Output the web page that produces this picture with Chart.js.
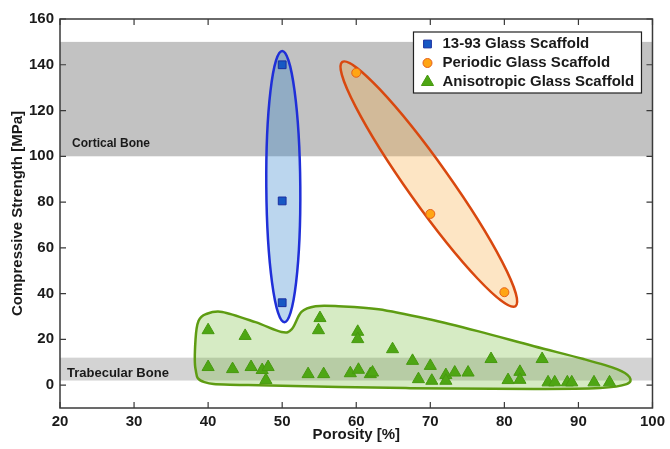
<!DOCTYPE html>
<html lang="en">
<head>
<meta charset="UTF-8">
<title>Compressive Strength vs Porosity</title>
<script src="https://cdn.jsdelivr.net/npm/chart.js"></script>
<style>
  body { margin: 0; background: #fff; }
  #wrap { width: 670px; height: 449px; }
</style>
</head>
<body>
<div id="wrap"><canvas id="strengthChart" width="670" height="449"></canvas></div>
<script>
// axis ticks
const xTicks = [20, 30, 40, 50, 60, 70, 80, 90, 100];
const yTicks = [0, 20, 40, 60, 80, 100, 120, 140, 160];

// series: [porosity %, strength MPa]
const seriesLabels = ['13-93 Glass Scaffold', 'Periodic Glass Scaffold', 'Anisotropic Glass Scaffold'];
const glass1393 = [[50, 140], [50, 80.5], [50, 36]];
const periodic = [[60, 136.5], [70, 74.8], [80, 40.6]];
const anisotropic = [
  [40, 24], [45, 21.5], [55.1, 29.3], [54.9, 24], [40, 7.9], [43.3, 7], [45.8, 7.9],
  [47.3, 6.6], [48.1, 7.9], [47.8, 2.2], [53.5, 4.8], [55.6, 4.8], [60.2, 23.3],
  [60.2, 20.1], [64.9, 15.7], [67.6, 10.6], [70, 8.4], [59.2, 5.2], [60.3, 6.7],
  [61.9, 4.8], [62.2, 5.5], [68.4, 2.6], [70.2, 1.9], [72.1, 4.4], [72.1, 1.9],
  [73.3, 5.5], [75.1, 5.5], [78.2, 11.4], [85.1, 11.4], [80.5, 2.2], [82.1, 5.8],
  [82.1, 2.3], [85.9, 1.2], [86.8, 1.2], [88.5, 1.2], [89.1, 1.2], [92.1, 1.2], [94.2, 1.2]
];

// reference bone ranges (MPa)
const corticalBand = [100, 150];
const trabecularBand = [2, 12];

// outline of the anisotropic group, in data units
const anisoHull = [
  [39.7, 31], [41.9, 32], [46.4, 27.5], [49.9, 23.2], [51.3, 24.5], [52.6, 32],
  [54.5, 34.5], [57.6, 34.5], [63, 33.2], [69.7, 28.9], [76.4, 23.6], [84, 17],
  [90.7, 11.4], [95.2, 7], [96.9, 3.5], [96.5, 0.4], [92.9, -1.3], [84, -1.7],
  [66.7, -1.3], [45.4, 0], [39.5, 1.3], [38.3, 7], [38.3, 20], [38.7, 28]
];
// tips of the two elongated groups
const glassHullTips = [[50, 146], [50.3, 27.5]];
const periodicHullTips = [[58.1, 141.2], [81.5, 34.5]];

const FONT = 'Arial, "Liberation Sans", sans-serif';
const toXY = arr => arr.map(p => ({ x: p[0], y: p[1] }));

function smoothClosed(ctx, pts) {
  const n = pts.length;
  ctx.beginPath();
  ctx.moveTo(pts[0][0], pts[0][1]);
  for (let i = 0; i < n; i++) {
    const p0 = pts[(i - 1 + n) % n], p1 = pts[i], p2 = pts[(i + 1) % n], p3 = pts[(i + 2) % n];
    ctx.bezierCurveTo(
      p1[0] + (p2[0] - p0[0]) / 6, p1[1] + (p2[1] - p0[1]) / 6,
      p2[0] - (p3[0] - p1[0]) / 6, p2[1] - (p3[1] - p1[1]) / 6,
      p2[0], p2[1]);
  }
  ctx.closePath();
}

function ellipseHull(ctx, a, b, halfWidth, fill, stroke) {
  const cx = (a[0] + b[0]) / 2, cy = (a[1] + b[1]) / 2;
  const rx = Math.hypot(b[0] - a[0], b[1] - a[1]) / 2;
  const rot = Math.atan2(b[1] - a[1], b[0] - a[0]);
  ctx.beginPath();
  ctx.ellipse(cx, cy, rx, halfWidth, rot, 0, Math.PI * 2);
  ctx.fillStyle = fill;
  ctx.fill();
  ctx.lineWidth = 2.5;
  ctx.strokeStyle = stroke;
  ctx.stroke();
}

function drawMarker(ctx, style, x, y, r, fill, stroke) {
  ctx.beginPath();
  if (style === 'rect') {
    const s = r * Math.SQRT1_2;
    ctx.rect(x - s, y - s, 2 * s, 2 * s);
  } else if (style === 'triangle') {
    ctx.moveTo(x, y - r);
    ctx.lineTo(x + r * Math.sin(Math.PI * 2 / 3), y - r * Math.cos(Math.PI * 2 / 3));
    ctx.lineTo(x + r * Math.sin(Math.PI * 4 / 3), y - r * Math.cos(Math.PI * 4 / 3));
    ctx.closePath();
  } else {
    ctx.arc(x, y, r, 0, Math.PI * 2);
  }
  ctx.fillStyle = fill;
  ctx.fill();
  ctx.lineWidth = 1;
  ctx.strokeStyle = stroke;
  ctx.stroke();
}

const decorPlugin = {
  id: 'decor',
  beforeDatasetsDraw(chart) {
    const { ctx, chartArea: ca, scales: { x, y } } = chart;
    const px = p => [x.getPixelForValue(p[0]), y.getPixelForValue(p[1])];
    ctx.save();
    // bone bands
    ctx.fillStyle = '#c2c2c2';
    ctx.fillRect(ca.left, y.getPixelForValue(corticalBand[1]), ca.width,
      y.getPixelForValue(corticalBand[0]) - y.getPixelForValue(corticalBand[1]));
    ctx.fillStyle = '#d3d3d3';
    ctx.fillRect(ca.left, y.getPixelForValue(trabecularBand[1]), ca.width,
      y.getPixelForValue(trabecularBand[0]) - y.getPixelForValue(trabecularBand[1]));
    ctx.fillStyle = '#1a1a1a';
    ctx.textBaseline = 'middle';
    ctx.font = 'bold 12px ' + FONT;
    ctx.fillText('Cortical Bone', ca.left + 12, y.getPixelForValue(corticalBand[0]) - 13);
    ctx.font = 'bold 13px ' + FONT;
    ctx.fillText('Trabecular Bone', ca.left + 7, y.getPixelForValue((trabecularBand[0] + trabecularBand[1]) / 2) + 4);

    // group outlines
    smoothClosed(ctx, anisoHull.map(px));
    ctx.fillStyle = 'rgba(120, 190, 60, 0.3)';
    ctx.fill();
    ctx.lineWidth = 2.5;
    ctx.strokeStyle = '#5e9c12';
    ctx.stroke();
    ellipseHull(ctx, px(glassHullTips[0]), px(glassHullTips[1]), 17, 'rgba(35, 122, 200, 0.31)', '#1f2fd8');
    ellipseHull(ctx, px(periodicHullTips[0]), px(periodicHullTips[1]), 21, 'rgba(250, 170, 60, 0.3)', '#d9480f');
    ctx.restore();
  },
  afterDraw(chart) {
    const { ctx, chartArea: ca, scales: { x, y } } = chart;
    ctx.save();
    // box and inward ticks
    ctx.strokeStyle = '#3a3a3a';
    ctx.lineWidth = 1.5;
    ctx.strokeRect(ca.left, ca.top, ca.width, ca.height);
    ctx.lineWidth = 1.2;
    ctx.beginPath();
    xTicks.forEach(v => {
      const p = x.getPixelForValue(v);
      ctx.moveTo(p, ca.bottom); ctx.lineTo(p, ca.bottom - 6);
      ctx.moveTo(p, ca.top); ctx.lineTo(p, ca.top + 6);
    });
    yTicks.forEach(v => {
      const p = y.getPixelForValue(v);
      ctx.moveTo(ca.left, p); ctx.lineTo(ca.left + 6, p);
      ctx.moveTo(ca.right, p); ctx.lineTo(ca.right - 6, p);
    });
    ctx.stroke();

    // legend in the top right corner
    const bx = ca.right - 239, by = ca.top + 13, bw = 228, bh = 61;
    ctx.fillStyle = '#fff';
    ctx.fillRect(bx, by, bw, bh);
    ctx.strokeStyle = '#222';
    ctx.lineWidth = 1.2;
    ctx.strokeRect(bx, by, bw, bh);
    ctx.font = 'bold 15px ' + FONT;
    ctx.textBaseline = 'middle';
    chart.data.datasets.forEach((ds, i) => {
      const ry = by + 12 + i * 19;
      drawMarker(ctx, ds.pointStyle, bx + 14, ry, ds.pointRadius, ds.backgroundColor, ds.borderColor);
      ctx.fillStyle = '#1a1a1a';
      ctx.fillText(ds.label, bx + 29, ry);
    });
    ctx.restore();
  }
};

const chart = new Chart(document.getElementById('strengthChart'), {
  type: 'scatter',
  data: {
    datasets: [
      {
        label: seriesLabels[0],
        data: toXY(glass1393),
        pointStyle: 'rect',
        pointRadius: 5.5,
        backgroundColor: '#1758c4',
        borderColor: '#1a2fa0',
        borderWidth: 1
      },
      {
        label: seriesLabels[1],
        data: toXY(periodic),
        pointStyle: 'circle',
        pointRadius: 4.5,
        backgroundColor: '#ffa514',
        borderColor: '#e5601a',
        borderWidth: 1
      },
      {
        label: seriesLabels[2],
        data: toXY(anisotropic),
        pointStyle: 'triangle',
        pointRadius: 7,
        backgroundColor: '#4ea614',
        borderColor: '#47990f',
        borderWidth: 1
      }
    ]
  },
  options: {
    responsive: false,
    animation: false,
    devicePixelRatio: 1,
    layout: { padding: { left: 0, top: 19, right: 14, bottom: 0 } },
    plugins: {
      legend: { display: false },
      tooltip: { enabled: false }
    },
    scales: {
      x: {
        type: 'linear',
        min: 20,
        max: 100,
        afterBuildTicks: s => { s.ticks = xTicks.map(v => ({ value: v })); },
        afterFit: s => { s.height = 41; },
        grid: { display: false, drawTicks: false },
        border: { display: false },
        ticks: { color: '#1a1a1a', padding: 5, font: { family: FONT, size: 15, weight: 'bold' } },
        title: {
          display: true,
          text: 'Porosity [%]',
          color: '#1a1a1a',
          padding: { top: 0, bottom: 5 },
          font: { family: FONT, size: 15, weight: 'bold' }
        }
      },
      y: {
        type: 'linear',
        min: -10,
        max: 160,
        afterBuildTicks: s => { s.ticks = yTicks.map(v => ({ value: v })); },
        afterFit: s => { s.width = 60; },
        grid: { display: false, drawTicks: false },
        border: { display: false },
        ticks: { color: '#1a1a1a', padding: 6, font: { family: FONT, size: 15, weight: 'bold' } },
        title: {
          display: true,
          text: 'Compressive Strength [MPa]',
          color: '#1a1a1a',
          padding: { top: 9, bottom: 0 },
          font: { family: FONT, size: 15, weight: 'bold' }
        }
      }
    }
  },
  plugins: [decorPlugin]
});
</script>
</body>
</html>
